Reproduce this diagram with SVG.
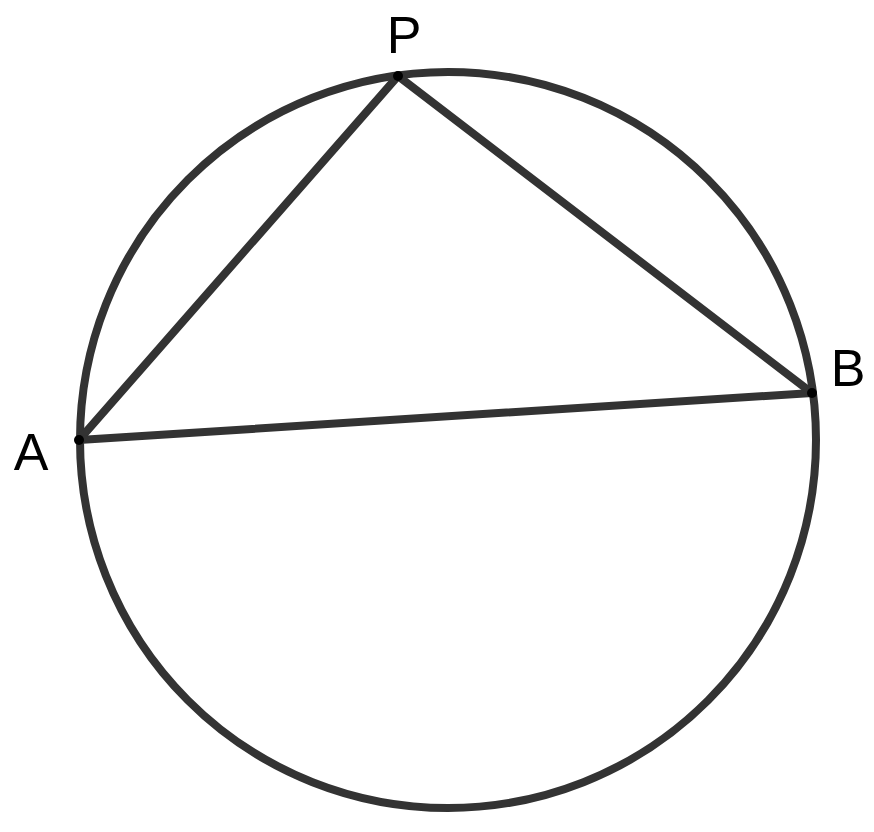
<svg xmlns="http://www.w3.org/2000/svg" width="874" height="832" viewBox="0 0 874 832">
<style>
.l{stroke:#333;stroke-width:8;fill:none;stroke-linecap:round}
.t{font-family:"Liberation Sans",Arial,sans-serif;font-size:52px;fill:#000;text-anchor:middle}
</style>
<rect width="874" height="832" fill="#fff"/>
<g id="circle"><circle class="l" cx="448" cy="440" r="368"/></g>
<g id="connectors">
<line class="l" x1="398" y1="76" x2="79" y2="440"/>
<line class="l" x1="398" y1="76" x2="812" y2="393"/>
<line class="l" x1="79" y1="440" x2="812" y2="393"/>
</g>
<g id="P"><circle cx="398" cy="76" r="5"/><text class="t" x="404" y="53">P</text></g>
<g id="A"><circle cx="79" cy="440" r="5"/><text class="t" x="31" y="470">A</text></g>
<g id="B"><circle cx="812" cy="393" r="5"/><text class="t" x="848" y="386">B</text></g>
</svg>
